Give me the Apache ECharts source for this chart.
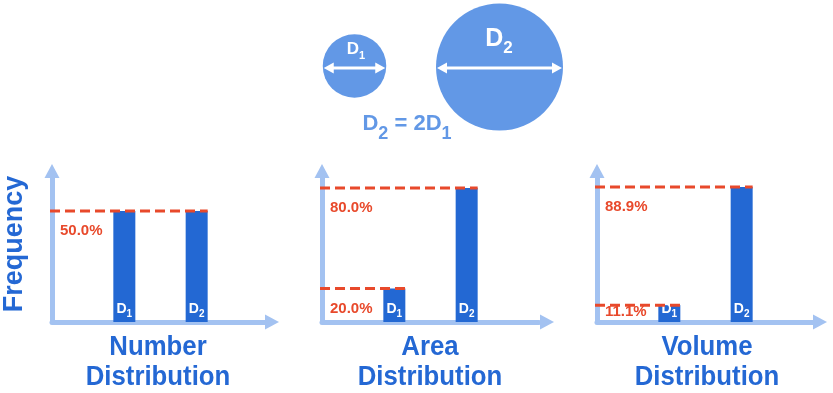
<!DOCTYPE html>
<html><head><meta charset="utf-8">
<script src="https://cdn.jsdelivr.net/npm/echarts@6/dist/echarts.min.js"></script>
<style>html,body{margin:0;padding:0;background:#fff}#c{width:833px;height:393px}</style>
</head><body><div id="c"></div>
<script>
// ---- data ----
const categories = ['D1', 'D2'];
const numberShare = [50.0, 50.0];
const areaShare = [20.0, 80.0];
const volumeShare = [11.1, 88.9];
const panelTitles = ['Number\nDistribution', 'Area\nDistribution', 'Volume\nDistribution'];
const yAxisTitle = 'Frequency';
const diameters = [1, 2];
const relationText = 'D2 = 2D1';

// ---- style / layout ----
const FONT = '"Liberation Sans", Arial, Helvetica, sans-serif';
const BAR = '#2368d3';
const AXIS = '#a3c2f1';
const RED = '#e8492b';
const CIRCLE = '#6298e6';
const TITLE = '#2468d4';
const TOP = 171, BOTTOM_Y = 322, GRID_H = 151, GRID_W = 217;

const panels = [
  { share: numberShare, left: 52, yMax: 68, arrowOff: 3, titleX: 158 },
  { share: areaShare, left: 322, yMax: 90.1, arrowOff: 8, titleX: 430 },
  { share: volumeShare, left: 597, yMax: 99.4, arrowOff: 6, titleX: 707 }
];
const axisCats = [''].concat(categories, ['']);

function toRich(str) {
  let out = '', buf = '';
  for (let i = 0; i < str.length; i++) {
    const ch = str[i];
    if (/\d/.test(ch) && i > 0 && str[i - 1] === 'D') {
      if (buf) { out += '{b|' + buf + '}'; buf = ''; }
      out += '{s|' + ch + '}';
    } else buf += ch;
  }
  if (buf) out += '{b|' + buf + '}';
  return out;
}
// rich styles: main text top-aligned, subscript bottom-aligned in a taller line
function richStyles(b, s, drop, color, key) {
  const Ls = 0.85 * b + drop + 0.15 * s;
  const base = { fontWeight: 'bold', fontFamily: FONT };
  base[key] = color;
  return {
    b: Object.assign({}, base, { fontSize: b, lineHeight: b, verticalAlign: 'top' }),
    s: Object.assign({}, base, { fontSize: s, lineHeight: Ls, verticalAlign: 'bottom' })
  };
}

const grid = [], xAxis = [], yAxis = [], series = [];
panels.forEach((p, i) => {
  grid.push({ left: p.left, top: TOP, width: GRID_W, height: GRID_H });
  xAxis.push({
    type: 'category', gridIndex: i, data: axisCats, boundaryGap: false, z: 1,
    axisLine: { show: true, onZero: false, lineStyle: { color: AXIS, width: 5 },
      symbol: ['none', 'triangle'], symbolSize: [15, 14], symbolOffset: [0, p.arrowOff] },
    axisTick: { show: false }, axisLabel: { show: false }, splitLine: { show: false }
  });
  yAxis.push({
    type: 'value', gridIndex: i, min: 0, max: p.yMax, z: 1,
    axisLine: { show: true, lineStyle: { color: AXIS, width: 5 },
      symbol: ['none', 'triangle'], symbolSize: [15, 14] },
    axisTick: { show: false }, axisLabel: { show: false }, splitLine: { show: false }
  });
  series.push({
    type: 'bar', xAxisIndex: i, yAxisIndex: i, z: 3, barWidth: 22,
    itemStyle: { color: BAR },
    data: categories.map((c, k) => [c, p.share[k]]),
    label: {
      show: true, position: 'insideBottom', distance: 0, offset: [0, -3],
      formatter: (prm) => toRich(categories[prm.dataIndex]),
      rich: richStyles(14, 10, 3, '#fff', 'color')
    }
  });
  series.push({
    type: 'custom', xAxisIndex: i, yAxisIndex: i, z: 6, clip: false,
    data: categories.map((c, k) => [c, p.share[k]]),
    renderItem: (params, api) => {
      const idx = params.dataIndex;
      for (let j = idx + 1; j < p.share.length; j++) if (p.share[j] === p.share[idx]) return;
      const v = api.value(1);
      const end = api.coord([api.value(0), v]);
      const start = api.coord([0, v]);
      const labelY = Math.min(end[1] + 20, BOTTOM_Y - 10);
      return {
        type: 'group', children: [
          { type: 'line', shape: { x1: start[0] - 2, y1: end[1], x2: end[0] + 11, y2: end[1] },
            style: { stroke: RED, lineWidth: 3, lineDash: [10, 5] } },
          { type: 'text', x: start[0] + 8, y: labelY,
            style: { text: v.toFixed(1) + '%', fill: RED, fontSize: 15, fontWeight: 'bold',
              fontFamily: FONT, align: 'left', verticalAlign: 'middle' } }
        ]
      };
    }
  });
});

// ---- decorative diagram ----
const graphic = [];
const baseR = 31.75;
const circles = [
  { cx: 354.5, cy: 66, ay: 68, tx: 356, dy: 49, b: 17, s: 11, drop: 5 },
  { cx: 499.5, cy: 67, ay: 68, tx: 499, dy: 39, b: 25, s: 17, drop: 7 }
];
circles.forEach((c, k) => {
  const r = baseR * diameters[k];
  graphic.push({ type: 'circle', shape: { cx: c.cx, cy: c.cy, r: r }, style: { fill: CIRCLE } });
  const x0 = c.cx - r + 1, x1 = c.cx + r - 1;
  graphic.push({ type: 'line', shape: { x1: x0 + 6, y1: c.ay, x2: x1 - 6, y2: c.ay }, style: { stroke: '#fff', lineWidth: 3 } });
  graphic.push({ type: 'polygon', shape: { points: [[x0, c.ay], [x0 + 10, c.ay - 5.5], [x0 + 10, c.ay + 5.5]] }, style: { fill: '#fff' } });
  graphic.push({ type: 'polygon', shape: { points: [[x1, c.ay], [x1 - 10, c.ay - 5.5], [x1 - 10, c.ay + 5.5]] }, style: { fill: '#fff' } });
  graphic.push({ type: 'text', x: c.tx, y: c.dy - c.b / 2, style: {
    text: toRich(categories[k]), align: 'center', verticalAlign: 'top',
    rich: richStyles(c.b, c.s, c.drop, '#fff', 'fill') } });
});
graphic.push({ type: 'text', x: 407, y: 124 - 11, style: {
  text: toRich(relationText), align: 'center', verticalAlign: 'top',
  rich: richStyles(22, 18, 9, CIRCLE, 'fill') } });
graphic.push({ type: 'text', x: 15, y: 244, rotation: Math.PI / 2, style: {
  text: yAxisTitle, fill: TITLE, fontSize: 27, fontWeight: 'bold', fontFamily: FONT,
  align: 'center', verticalAlign: 'middle' } });
panels.forEach((p, i) => {
  graphic.push({ type: 'text', x: p.titleX, y: 332, scaleX: 0.92, style: {
    text: panelTitles[i], fill: TITLE, fontSize: 28, fontWeight: 'bold', fontFamily: FONT,
    lineHeight: 30, align: 'center', verticalAlign: 'top' } });
});

const chart = echarts.init(document.getElementById('c'), null, { renderer: 'canvas' });
chart.setOption({
  animation: false,
  backgroundColor: '#fff',
  grid, xAxis, yAxis, series, graphic
});
</script></body></html>
